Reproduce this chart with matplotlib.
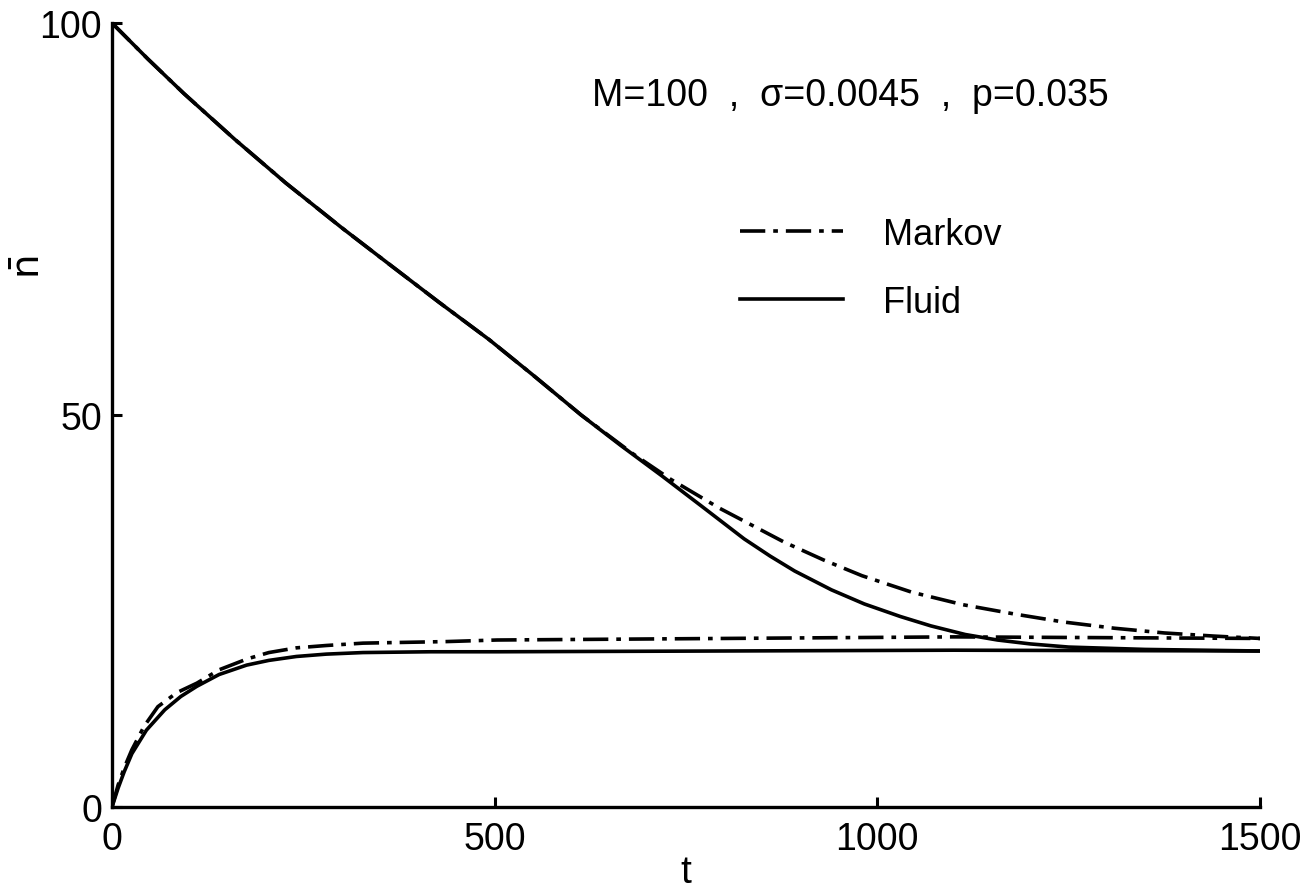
import matplotlib
matplotlib.use('Agg')
import matplotlib.pyplot as plt

matplotlib.rcParams['font.family'] = ['Liberation Sans', 'DejaVu Sans']
matplotlib.rcParams['mathtext.fontset'] = 'dejavusans'

# fluid approximation, starting from n=100
t_fluid_hi = [0, 47, 94, 160, 227, 300, 360, 427, 493, 550, 613, 665, 719, 770, 826, 860, 892, 940, 983,
              1030, 1070, 1115, 1157, 1200, 1250, 1350, 1500]
n_fluid_hi = [100, 95.4, 91.0, 85.2, 79.6, 73.9, 69.4, 64.4, 59.6, 55.1, 50.0, 46.1, 42.2, 38.4, 34.2, 32.0,
              30.1, 27.7, 25.9, 24.3, 23.1, 22.0, 21.3, 20.8, 20.4, 20.1, 19.9]

# markov, starting from n=100
t_markov_hi = [0, 47, 94, 160, 227, 300, 360, 427, 493, 550, 613, 680, 730, 794, 878, 930, 980, 1045,
               1112, 1180, 1243, 1310, 1375, 1440, 1500]
n_markov_hi = [100, 95.4, 91.0, 85.2, 79.6, 73.9, 69.4, 64.4, 59.6, 55.1, 50.0, 45.1, 41.8, 38.1, 33.8,
               31.5, 29.5, 27.4, 25.8, 24.6, 23.6, 22.8, 22.2, 21.8, 21.5]

# fluid approximation, starting from n=0
t_fluid_lo = [0, 8, 16, 26, 45, 69, 90, 111, 140, 176, 205, 241, 280, 328, 416, 503, 800, 1100, 1500]
n_fluid_lo = [0, 2.4, 4.5, 6.8, 9.8, 12.4, 14.1, 15.4, 16.9, 18.1, 18.7, 19.2, 19.5, 19.7, 19.8, 19.8,
              19.9, 20.0, 19.9]

# markov, starting from n=0
t_markov_lo = [0, 8, 16, 26, 42, 60, 85, 111, 140, 177, 205, 241, 280, 328, 437, 503, 800, 1100, 1500]
n_markov_lo = [0, 2.8, 5.0, 7.3, 10.3, 12.8, 14.6, 15.8, 17.5, 18.9, 19.7, 20.3, 20.6, 20.9, 21.1, 21.3,
               21.5, 21.7, 21.5]

xticks = [0, 500, 1000, 1500]
yticks = [0, 50, 100]

fig = plt.figure(figsize=(13.08, 8.95), dpi=100)
ax = fig.add_axes([0.0856, 0.0972, 0.8777, 0.876])

mk_dash = (7, 2.2, 1.3, 2.2)
lw = 2.6

ax.plot(t_markov_hi, n_markov_hi, color='black', lw=lw, dashes=mk_dash, label='Markov')
ax.plot(t_fluid_hi, n_fluid_hi, color='black', lw=lw, label='Fluid')
ax.plot(t_markov_lo, n_markov_lo, color='black', lw=lw, dashes=mk_dash)
ax.plot(t_fluid_lo, n_fluid_lo, color='black', lw=lw)

ax.set_xlim(0, 1500)
ax.set_ylim(0, 100)
ax.set_xticks(xticks)
ax.set_yticks(yticks)
ax.spines['top'].set_visible(False)
ax.spines['right'].set_visible(False)
for s in ['left', 'bottom']:
    ax.spines[s].set_linewidth(2.4)
ax.tick_params(direction='in', length=7, width=2.2, labelsize=27)
ax.tick_params(axis='x', pad=10)
ax.tick_params(axis='y', pad=7)

ax.set_xlabel('t', fontsize=28)
ax.xaxis.set_label_coords(0.5, -0.06)
ax.set_ylabel(r'$\bar{\mathrm{n}}$', fontsize=28)
ax.yaxis.set_label_coords(-0.056, 0.69)

ax.text(0.643, 0.908, 'M=100  ,  σ=0.0045  ,  p=0.035', transform=ax.transAxes,
        fontsize=27, ha='center', va='center')

ax.legend(loc='center left', bbox_to_anchor=(0.547, 0.687), frameon=False,
          fontsize=26, handlelength=2.85, handletextpad=1.1, labelspacing=0.9,
          borderpad=0, borderaxespad=0)

plt.savefig('out.png', dpi=100)
